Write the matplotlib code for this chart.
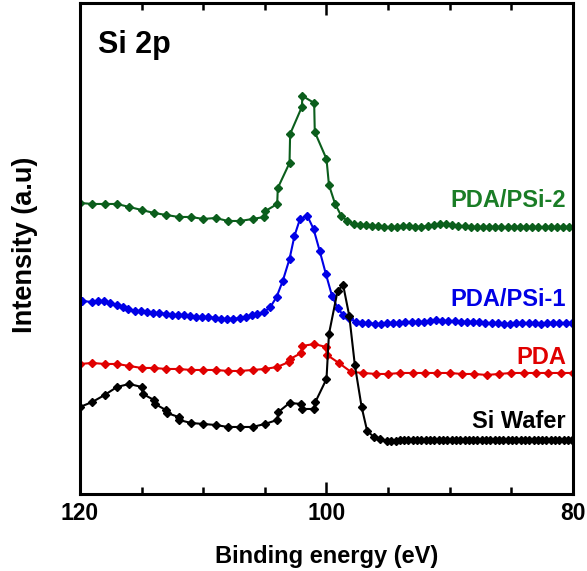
import matplotlib
matplotlib.use("Agg")
import matplotlib.pyplot as plt
from matplotlib.ticker import MultipleLocator

plt.rcParams['font.family'] = ['Liberation Sans', 'DejaVu Sans']
plt.rcParams['font.weight'] = 'bold'

# ---- data (binding energy in eV, intensity in a.u.) ----
green_x = [120, 119, 118, 117, 116, 115, 114, 113, 112, 111, 110, 109, 108, 107, 106,
           105.05, 104.95, 104.0, 103.95, 103.0, 102.95, 102.0, 101.95, 101.0, 100.95,
           100.0, 99.8, 99.3, 98.8, 98.3, 97.8, 97.3, 96.8,
           96.3, 95.8, 95.3, 94.8, 94.3, 93.8, 93.3, 92.8, 92.3, 91.8, 91.3, 90.8, 90.3,
           89.8, 89.3, 88.8, 88.3, 87.8, 87.3, 86.8, 86.3, 85.8, 85.3, 84.8, 84.3, 83.8,
           83.3, 82.8, 82.3, 81.8, 81.3, 80.8, 80.3]
green_y = [294, 293, 293, 293, 290, 287, 284, 282, 280, 280, 278, 279, 276, 276, 278,
           280, 286, 293, 309, 334, 363, 390, 401, 394, 365,
           338, 312, 293, 281, 276, 273, 272, 272,
           271, 271, 270, 270, 270, 271, 271, 270, 270, 271, 272, 273, 273,
           272, 271, 271, 270, 270, 270, 270, 270, 270, 270, 270, 270, 270,
           270, 270, 270, 270, 270, 270, 270]

blue_x = [119.8, 119.05, 118.5, 118.05, 117.55, 117.0, 116.55, 116.1, 115.55, 115.05,
          114.55, 114.05, 113.55, 113.05, 112.55, 112.05, 111.55, 111.05, 110.6, 110.1,
          109.6, 109.05, 108.6, 108.1, 107.55, 107.05, 106.55, 106.05, 105.6, 105.05,
          104.55, 104.05, 103.55, 103.0, 102.6, 102.15, 101.55, 101.05, 100.55, 100.05,
          99.55, 99.1, 98.65, 98.15, 97.6,
          97.1, 96.6, 96.1, 95.6, 95.1, 94.6, 94.1, 93.6, 93.1, 92.6, 92.1, 91.6, 91.1,
          90.6, 90.1, 89.6, 89.1, 88.6, 88.1, 87.6, 87.1, 86.6, 86.1, 85.6, 85.1, 84.6,
          84.1, 83.6, 83.1, 82.6, 82.1, 81.6, 81.1, 80.6, 80.1]
blue_y = [196, 195, 196, 196, 194, 192, 190, 188, 186, 186,
          185, 184, 184, 183, 182, 182, 182, 181, 180, 180,
          180, 179, 178, 178, 178, 179, 180, 182, 183, 185,
          190, 200, 216, 238, 261, 278, 281, 268, 246, 223,
          201, 189, 182, 179, 175,
          174, 174, 173, 173, 174, 174, 174, 175, 175, 175, 175, 176, 177,
          176, 176, 176, 175, 175, 175, 175, 174, 174, 174, 173, 173, 174,
          174, 174, 174, 173, 174, 174, 174, 174, 174]

red_x = [120, 119, 118, 117, 116, 115, 114, 113, 112, 111, 110, 109, 108, 107, 106,
         105, 104, 103.05, 102.95, 102.05, 101.95, 101.0, 100.05, 99.95, 99, 98, 97,
         96, 95, 94, 93, 92, 91, 90, 89, 88, 87, 86, 85, 84, 83, 82, 81, 80]
red_y = [133, 134, 133, 133, 131, 129, 129, 128, 128, 127, 127, 127, 126, 126, 127,
         128, 130, 135, 138, 144, 151, 153, 150, 142, 134, 125, 124,
         123, 123, 124, 124, 124, 124, 124, 123, 123, 122, 123, 124, 124, 124, 124, 124, 124]

black_x = [120, 119, 118, 117, 116, 115, 114.9, 114.0, 113.9, 113.05, 112.95, 112.0,
           111.95, 111, 110, 109, 108, 107, 106, 105, 104, 103.9, 103, 102.05, 101.95,
           101.0, 100.9, 100.0, 99.8, 99.1, 98.65, 98.15, 97.7, 97.15, 96.7, 96.15,
           95.65, 95.1,
           94.75, 94.4, 94.05, 93.7, 93.35, 93.0, 92.65, 92.3, 91.95, 91.6, 91.25, 90.9,
           90.55, 90.2, 89.85, 89.5, 89.15, 88.8, 88.45, 88.1, 87.75, 87.4, 87.05, 86.7,
           86.35, 86.0, 85.65, 85.3, 84.95, 84.6, 84.25, 83.9, 83.55, 83.2, 82.85, 82.5,
           82.15, 81.8, 81.45, 81.1, 80.75, 80.4, 80.05]
black_y = [90, 95, 102, 110, 113, 110, 103, 97, 93, 87, 84, 80,
           77, 74, 73, 72, 70, 70, 70, 73, 77, 85, 94, 93, 88,
           88, 95, 118, 163, 206, 212, 181, 132, 90, 66, 60,
           58, 56,
           56, 56, 57, 57, 57, 57, 57, 57, 57, 57, 57, 57,
           57, 57, 57, 57, 57, 57, 57, 57, 57, 57, 57, 57,
           57, 57, 57, 57, 57, 57, 57, 57, 57, 57, 57, 57,
           57, 57, 57, 57, 57, 57, 57]

series_names = ["PDA/PSi-2", "PDA/PSi-1", "PDA", "Si Wafer"]
x_ticks = [120, 100, 80]

# ---- figure ----
fig = plt.figure(figsize=(5.87, 5.71), dpi=100)
ax = fig.add_axes([0.1363, 0.1349, 0.8398, 0.8599])

line_colors = ['#0b5e1c', '#0000e6', '#e00000', '#000000']
text_colors = ['#1a7d26', '#0000e6', '#e00000', '#000000']
data = [(green_x, green_y), (blue_x, blue_y), (red_x, red_y), (black_x, black_y)]
for (xs, ys), c in zip(data, line_colors):
    ax.plot(xs, ys, color=c, lw=1.5, marker='D', ms=4, mec=c, mfc=c)

ax.set_xlim(120, 80)
ax.set_ylim(3, 494)
ax.set_xticks(x_ticks)
ax.set_xticklabels([str(t) for t in x_ticks])
ax.xaxis.set_minor_locator(MultipleLocator(5))
ax.set_yticks([])
ax.tick_params(axis='x', which='both', direction='in', top=True, bottom=True,
               labelsize=16.5, pad=6)
ax.tick_params(axis='x', which='major', length=8.5, width=1.8)
ax.tick_params(axis='x', which='minor', length=5, width=1.8)
for lbl in ax.get_xticklabels():
    lbl.set_fontweight('bold')
for sp in ax.spines.values():
    sp.set_linewidth(2.2)

ax.set_xlabel("Binding energy (eV)", fontsize=17, fontweight='bold')
ax.xaxis.set_label_coords(0.5, -0.128)
ax.xaxis.label.set_verticalalignment('center')
ax.set_ylabel("Intensity (a.u)", fontsize=19.5, fontweight='bold')
ax.yaxis.set_label_coords(-0.112, 0.507)
ax.yaxis.label.set_verticalalignment('center')

label_y = [0.597, 0.397, 0.277, 0.147]
for name, c, yy in zip(series_names, text_colors, label_y):
    ax.text(0.986, yy, name, transform=ax.transAxes, ha='right', va='center',
            fontsize=17, fontweight='bold', color=c)

ax.text(0.0365, 0.914, "Si 2p", transform=ax.transAxes, ha='left', va='center',
        fontsize=22, fontweight='bold', color='black')

fig.savefig("out.png", dpi=100)
